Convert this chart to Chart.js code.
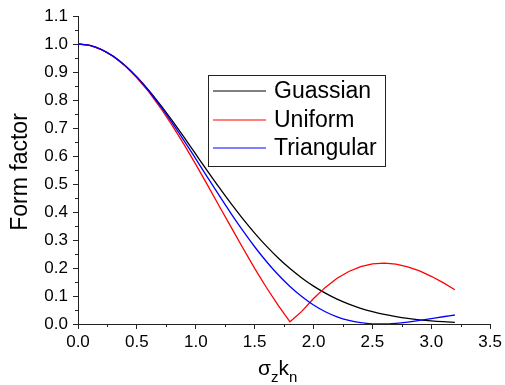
<!DOCTYPE html>
<html>
<head>
<meta charset="utf-8">
<script src="https://cdn.jsdelivr.net/npm/chart.js@4.4.0/dist/chart.umd.min.js"></script>
<style>
  html, body { margin: 0; padding: 0; background: #fff; }
  #wrap { width: 505px; height: 385px; }
</style>
</head>
<body>
<div id="wrap"><canvas id="c" width="505" height="385"></canvas></div>
<script>
const xValues = [0.0,0.1,0.2,0.3,0.4,0.5,0.6,0.7,0.8,0.9,1.0,1.1,1.2,1.3,1.4,1.5,1.6,1.7,1.8,1.9,2.0,2.1,2.2,2.3,2.4,2.5,2.6,2.7,2.8,2.9,3.0,3.1,3.2];
const gaussian = [1.0000,0.9950,0.9802,0.9560,0.9231,0.8825,0.8353,0.7827,0.7261,0.6670,0.6065,0.5461,0.4868,0.4296,0.3753,0.3247,0.2780,0.2357,0.1979,0.1645,0.1353,0.1103,0.0889,0.0710,0.0561,0.0439,0.0340,0.0261,0.0198,0.0149,0.0111,0.0082,0.0060];
const uniform = [1.0000,0.9950,0.9802,0.9556,0.9220,0.8794,0.8297,0.7723,0.7093,0.6415,0.5699,0.4958,0.4207,0.3459,0.2716,0.1987,0.1304,0.0665,0.0077,0.0451,0.0910,0.1308,0.1634,0.1876,0.2046,0.2144,0.2173,0.2137,0.2042,0.1896,0.1704,0.1478,0.1224];
const triangular = [1.0000,0.9950,0.9802,0.9559,0.9225,0.8813,0.8331,0.7780,0.7183,0.6552,0.5899,0.5238,0.4582,0.3943,0.3332,0.2759,0.2232,0.1757,0.1339,0.0981,0.0679,0.0439,0.0257,0.0128,0.0047,0.0007,0.0002,0.0025,0.0069,0.0126,0.0192,0.0259,0.0322];
const seriesLabels = ['Guassian','Uniform','Triangular'];
const seriesColors = ['#000000','#ff0000','#0000ff'];
const xTitle = [['σ','main'],['z','sub'],['k','main'],['n','sub']];
const yTitle = 'Form factor';

const FONT = "'Liberation Sans', Arial, sans-serif";
const toPts = ys => xValues.map((x,i)=>({x:x,y:ys[i]}));

const extras = {
  id: 'extras',
  afterDraw(chart) {
    const ctx = chart.ctx;
    const xs = chart.scales.x, ys = chart.scales.y;
    const ca = chart.chartArea;
    ctx.save();
    // minor ticks
    ctx.strokeStyle = '#222';
    ctx.lineWidth = 1;
    ctx.beginPath();
    for (let v = 0.25; v < 3.5; v += 0.5) {
      const px = Math.round(xs.getPixelForValue(v)) + 0.5;
      ctx.moveTo(px, ca.bottom); ctx.lineTo(px, ca.bottom + 3);
    }
    for (let v = 0.05; v < 1.1; v += 0.1) {
      const py = Math.round(ys.getPixelForValue(v)) + 0.5;
      ctx.moveTo(ca.left, py); ctx.lineTo(ca.left - 3, py);
    }
    ctx.stroke();
    // y title
    ctx.fillStyle = '#000';
    ctx.save();
    ctx.translate(21, 172);
    ctx.rotate(-Math.PI/2);
    ctx.font = '23px ' + FONT;
    ctx.textAlign = 'center';
    ctx.textBaseline = 'middle';
    ctx.fillText(yTitle, 0, 0);
    ctx.restore();
    // x title with subscripts
    let x = 258;
    ctx.textBaseline = 'alphabetic';
    ctx.textAlign = 'left';
    xTitle.forEach(([t,k]) => {
      ctx.font = (k === 'main' ? '21px ' : '15px ') + FONT;
      ctx.fillText(t, x, k === 'main' ? 375 : 382);
      x += ctx.measureText(t).width;
    });
    // legend
    const bx = 208.5, by = 75.5, bw = 177, bh = 91;
    ctx.fillStyle = '#fff';
    ctx.fillRect(bx, by, bw, bh);
    ctx.strokeStyle = '#222';
    ctx.lineWidth = 1;
    ctx.strokeRect(bx, by, bw, bh);
    const rows = [91, 120, 148];
    ctx.font = '23px ' + FONT;
    ctx.textBaseline = 'middle';
    chart.data.datasets.forEach((ds, i) => {
      ctx.strokeStyle = ds.borderColor;
      ctx.lineWidth = 1.2;
      ctx.beginPath();
      ctx.moveTo(213, rows[i]); ctx.lineTo(266, rows[i]);
      ctx.stroke();
      ctx.fillStyle = '#000';
      ctx.fillText(ds.label, 274, rows[i] + 1);
    });
    ctx.restore();
  }
};

new Chart(document.getElementById('c'), {
  type: 'line',
  data: {
    datasets: [
      {label: seriesLabels[0], data: toPts(gaussian), borderColor: seriesColors[0], cubicInterpolationMode: 'monotone', order: 3},
      {label: seriesLabels[1], data: toPts(uniform), borderColor: seriesColors[1], tension: 0, order: 2},
      {label: seriesLabels[2], data: toPts(triangular), borderColor: seriesColors[2], cubicInterpolationMode: 'monotone', order: 1}
    ].map(d => Object.assign({borderWidth: 1.3, pointRadius: 0, fill: false}, d))
  },
  options: {
    responsive: false,
    animation: false,
    devicePixelRatio: 1,
    layout: {padding: {top: 16, right: 14, left: 0, bottom: 0}},
    plugins: {legend: {display: false}, tooltip: {enabled: false}},
    scales: {
      x: {
        type: 'linear', min: 0, max: 3.5,
        afterFit(s) { s.height = 61; },
        border: {display: true, color: '#222', width: 1},
        grid: {drawOnChartArea: false, drawTicks: true, tickLength: 5, tickColor: '#222'},
        ticks: {stepSize: 0.5, color: '#000', font: {family: FONT, size: 17}, padding: 3, maxRotation: 0,
                callback: v => Number(v).toFixed(1)}
      },
      y: {
        type: 'linear', min: 0, max: 1.1,
        afterFit(s) { s.width = 78; },
        border: {display: true, color: '#222', width: 1},
        grid: {drawOnChartArea: false, drawTicks: true, tickLength: 5, tickColor: '#222'},
        ticks: {stepSize: 0.1, color: '#000', font: {family: FONT, size: 17}, padding: 5,
                callback: v => Number(v).toFixed(1)}
      }
    }
  },
  plugins: [extras]
});
</script>
</body>
</html>
